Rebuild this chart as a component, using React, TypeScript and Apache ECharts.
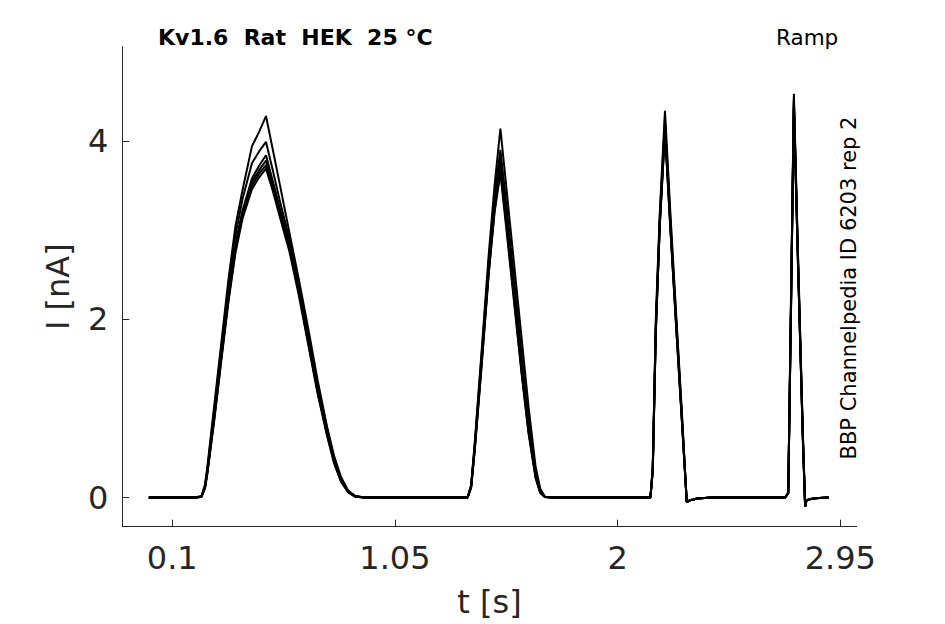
import React, { useEffect, useRef } from "react";
import * as echarts from "echarts";

// time axis shared by all sweeps [s]
const T = [
  0.0, 0.2, 0.225, 0.24, 0.25, 0.28, 0.31, 0.34, 0.37, 0.4, 0.44, 0.47, 0.5, 0.53, 0.56, 0.6, 0.64, 0.68, 0.72, 0.76, 0.79, 0.82, 0.85, 0.88, 0.92,
  1.36, 1.375, 1.39, 1.42, 1.45, 1.475, 1.5, 1.53, 1.56, 1.59, 1.62, 1.65, 1.67, 1.69, 1.72,
  2.14, 2.15, 2.163, 2.18, 2.202, 2.225, 2.25, 2.275, 2.295, 2.31, 2.34, 2.4,
  2.715, 2.728, 2.74, 2.752, 2.77, 2.79, 2.8, 2.806, 2.83, 2.86, 2.9,
];

// current sweeps [nA]
const sweepA = [
  0, 0, 0.02, 0.15, 0.35, 1.05, 1.75, 2.45, 3.05, 3.45, 3.94, 4.1, 4.28, 3.89, 3.5, 2.97, 2.45, 1.9, 1.32, 0.8, 0.47, 0.23, 0.08, 0.02, 0,
  0, 0.14, 0.6, 1.65, 2.72, 3.5, 4.14, 3.36, 2.58, 1.8, 1.02, 0.35, 0.1, 0.01, 0,
  0, 0.35, 2.0, 3.2, 4.34, 3.2, 2.05, 0.92, -0.05, -0.03, -0.01, 0,
  0, 0.06, 2.3, 4.53, 2.7, 0.75, -0.1, -0.03, -0.012, -0.005, 0,
];
const sweepB = [
  0, 0, 0.01, 0.13, 0.32, 1.0, 1.7, 2.38, 2.95, 3.35, 3.75, 3.88, 3.99, 3.66, 3.32, 2.9, 2.4, 1.84, 1.27, 0.78, 0.45, 0.21, 0.075, 0.015, 0,
  0, 0.13, 0.57, 1.6, 2.65, 3.4, 3.9, 3.18, 2.4, 1.62, 0.88, 0.3, 0.08, 0.01, 0,
  0, 0.33, 1.95, 3.15, 4.25, 3.12, 2.0, 0.88, -0.05, -0.03, -0.01, 0,
  0, 0.05, 2.25, 4.48, 2.65, 0.72, -0.1, -0.03, -0.012, -0.005, 0,
];
const sweepC = [
  0, 0, 0.01, 0.12, 0.3, 0.95, 1.62, 2.28, 2.85, 3.22, 3.58, 3.72, 3.84, 3.54, 3.24, 2.85, 2.36, 1.8, 1.24, 0.75, 0.43, 0.2, 0.07, 0.015, 0,
  0, 0.12, 0.55, 1.55, 2.58, 3.3, 3.8, 3.05, 2.28, 1.5, 0.8, 0.26, 0.07, 0.008, 0,
  0, 0.32, 1.9, 3.1, 4.18, 3.08, 1.96, 0.86, -0.05, -0.03, -0.01, 0,
  0, 0.05, 2.2, 4.45, 2.62, 0.7, -0.1, -0.03, -0.012, -0.005, 0,
];
const sweepD = [
  0, 0, 0.01, 0.12, 0.29, 0.93, 1.6, 2.25, 2.82, 3.2, 3.54, 3.67, 3.78, 3.5, 3.2, 2.82, 2.33, 1.77, 1.21, 0.73, 0.41, 0.19, 0.065, 0.012, 0,
  0, 0.12, 0.54, 1.53, 2.55, 3.25, 3.72, 2.98, 2.22, 1.45, 0.76, 0.24, 0.06, 0.007, 0,
  0, 0.31, 1.88, 3.08, 4.14, 3.05, 1.94, 0.84, -0.05, -0.03, -0.01, 0,
  0, 0.05, 2.18, 4.42, 2.6, 0.69, -0.1, -0.03, -0.012, -0.005, 0,
];
const sweepE = [
  0, 0, 0.01, 0.11, 0.28, 0.9, 1.57, 2.22, 2.78, 3.16, 3.5, 3.63, 3.73, 3.46, 3.17, 2.79, 2.3, 1.74, 1.19, 0.71, 0.4, 0.18, 0.06, 0.01, 0,
  0, 0.11, 0.52, 1.5, 2.52, 3.22, 3.68, 2.94, 2.18, 1.42, 0.74, 0.23, 0.055, 0.006, 0,
  0, 0.3, 1.86, 3.06, 4.12, 3.03, 1.92, 0.83, -0.05, -0.03, -0.01, 0,
  0, 0.05, 2.16, 4.4, 2.58, 0.68, -0.1, -0.03, -0.012, -0.005, 0,
];
const sweepF = [
  0, 0, 0.01, 0.11, 0.27, 0.88, 1.55, 2.2, 2.75, 3.13, 3.46, 3.59, 3.69, 3.43, 3.14, 2.76, 2.27, 1.72, 1.17, 0.7, 0.39, 0.18, 0.06, 0.01, 0,
  0, 0.11, 0.51, 1.48, 2.5, 3.2, 3.64, 2.9, 2.15, 1.4, 0.72, 0.22, 0.05, 0.005, 0,
  0, 0.3, 1.85, 3.05, 4.1, 3.02, 1.9, 0.82, -0.05, -0.03, -0.01, 0,
  0, 0.05, 2.15, 4.38, 2.56, 0.67, -0.1, -0.03, -0.012, -0.005, 0,
];

const SWEEPS = [sweepA, sweepB, sweepC, sweepD, sweepE, sweepF];
const X_TICKS = [0.1, 1.05, 2, 2.95];
const Y_TICKS = [0, 2, 4];

const FONT = "DejaVu Sans";
const AXIS_COLOR = "#262626";

export default function App() {
  const ref = useRef<HTMLDivElement>(null);

  useEffect(() => {
    if (!ref.current) return;
    const chart = echarts.init(ref.current, null, { renderer: "svg" });
    chart.setOption({
      animation: false,
      backgroundColor: "#ffffff",
      title: [
        {
          text: "Kv1.6  Rat  HEK  25 °C",
          left: 158,
          top: 26,
          padding: 0,
          textStyle: { fontFamily: FONT, fontSize: 22, fontWeight: "bold", color: "#000" },
        },
        {
          text: "Ramp",
          left: 776,
          top: 26,
          padding: 0,
          textStyle: { fontFamily: FONT, fontSize: 21.5, fontWeight: "normal", color: "#000" },
        },
      ],
      graphic: [
        {
          type: "text",
          x: 849,
          y: 288,
          rotation: Math.PI / 2,
          style: {
            text: "BBP Channelpedia ID 6203 rep 2",
            fontFamily: FONT,
            fontSize: 21,
            fill: "#000",
            align: "center",
            verticalAlign: "middle",
          },
        },
      ],
      grid: { left: 122.3, right: 88.3, top: 46.7, bottom: 97.3 },
      xAxis: {
        type: "value",
        min: -0.113,
        max: 3.02,
        name: "t [s]",
        nameLocation: "middle",
        nameGap: 59,
        nameTextStyle: { fontFamily: FONT, fontSize: 32, color: AXIS_COLOR },
        axisLine: { show: true, onZero: false, lineStyle: { color: AXIS_COLOR, width: 1 } },
        axisTick: { show: true, inside: true, length: 7, customValues: X_TICKS, lineStyle: { color: AXIS_COLOR } },
        axisLabel: {
          customValues: X_TICKS,
          margin: 15,
          fontFamily: FONT,
          fontSize: 32,
          color: AXIS_COLOR,
          formatter: (v: number) => String(v),
        },
        splitLine: { show: false },
      },
      yAxis: {
        type: "value",
        min: -0.327,
        max: 5.058,
        name: "I [nA]",
        nameLocation: "middle",
        nameRotate: 90,
        nameGap: 48,
        nameTextStyle: { fontFamily: FONT, fontSize: 32, color: AXIS_COLOR },
        axisLine: { show: true, onZero: false, lineStyle: { color: AXIS_COLOR, width: 1 } },
        axisTick: { show: true, inside: true, length: 7, customValues: Y_TICKS, lineStyle: { color: AXIS_COLOR } },
        axisLabel: {
          customValues: Y_TICKS,
          margin: 14,
          fontFamily: FONT,
          fontSize: 32,
          color: AXIS_COLOR,
          formatter: (v: number) => String(v),
        },
        splitLine: { show: false },
      },
      series: SWEEPS.map((vals, i) => ({
        type: "line",
        name: "sweep " + (i + 1),
        data: T.map((t, j) => [t, vals[j]]),
        showSymbol: false,
        silent: true,
        lineStyle: { color: "#000000", width: 2 },
        z: 2,
      })),
    });
    return () => chart.dispose();
  }, []);

  return (
    <div
      ref={ref}
      style={{ position: "fixed", left: 0, top: 0, width: 945, height: 624, background: "#fff" }}
    />
  );
}
